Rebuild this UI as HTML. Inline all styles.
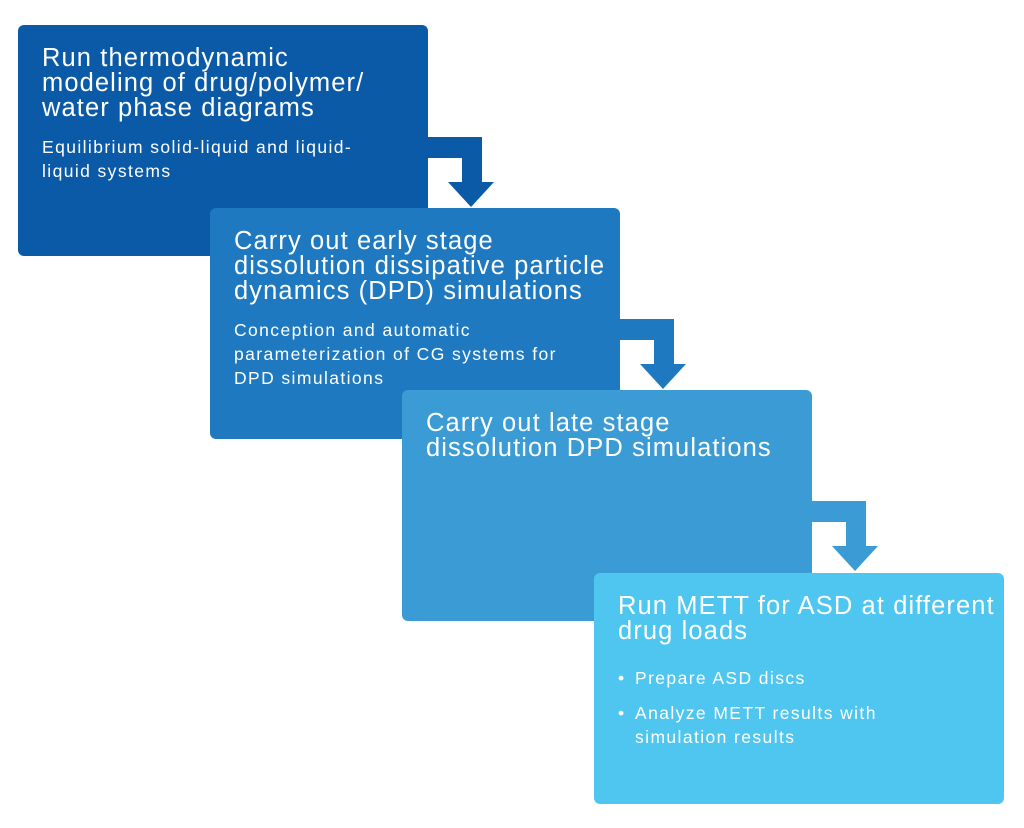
<!DOCTYPE html>
<html><head><style>
body{margin:0;width:1024px;height:828px;background:#fff;position:relative;overflow:hidden;font-family:"Liberation Sans",sans-serif;color:#fff}
.b{position:absolute;width:410px;height:231px;border-radius:6px;box-sizing:border-box;padding:21px 10px 0 24px;white-space:nowrap}
.t{font-size:25.5px;line-height:25px;letter-spacing:1.1px;margin-bottom:14px}
.s{font-size:17.5px;line-height:24px;letter-spacing:1.4px}
ul{margin:0;padding:8px 0 0 17px;list-style:none}
li{position:relative;margin-bottom:11px}
li:before{content:"•";position:absolute;left:-17px}
</style></head><body>
<svg width="1024" height="828" style="position:absolute;left:0;top:0">
<path d="M420 137H482V182H494L471 207L448 182H462V158H420Z" fill="#0b5aa7"/>
<path d="M612 319H674V364H686L663 389L640 364H654V340H612Z" fill="#1f79c1"/>
<path d="M804 501H866V546H878L855 571L832 546H846V522H804Z" fill="#3b9bd5"/>
</svg>
<div class="b" style="left:18px;top:25px;background:#0b5aa7"><div class="t">Run thermodynamic<br>modeling of drug/polymer/<br>water phase diagrams</div><div class="s">Equilibrium solid-liquid and liquid-<br>liquid systems</div></div>
<div class="b" style="left:210px;top:208px;background:#1f79c1"><div class="t">Carry out early stage<br>dissolution dissipative particle<br>dynamics (DPD) simulations</div><div class="s">Conception and automatic<br>parameterization of CG systems for<br>DPD simulations</div></div>
<div class="b" style="left:402px;top:390px;background:#3b9bd5"><div class="t">Carry out late stage<br>dissolution DPD simulations</div></div>
<div class="b" style="left:594px;top:573px;background:#4fc6ef"><div class="t">Run METT for ASD at different<br>drug loads</div><div class="s"><ul><li>Prepare ASD discs</li><li>Analyze METT results with<br>simulation results</li></ul></div></div>
</body></html>
